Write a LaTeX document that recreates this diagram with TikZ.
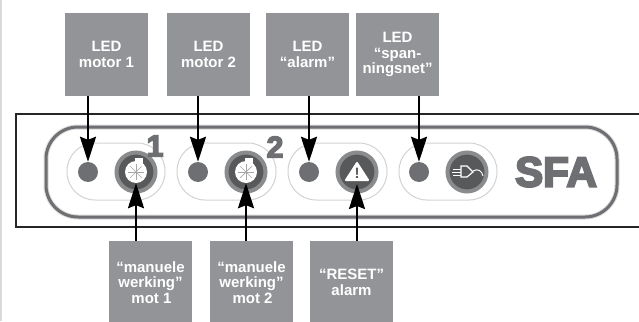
\documentclass[tikz,border=0pt]{standalone}
\usepackage{fontspec}
\setmainfont{Liberation Sans}
\newfontface\logofont[FakeBold=5]{Liberation Sans Bold}
\usetikzlibrary{arrows.meta}
\definecolor{boxgray}{HTML}{929497}
\definecolor{panelgray}{HTML}{6E6F72}
\definecolor{knobgray}{HTML}{58595B}
\tikzset{
  infobox/.style={fill=boxgray,text=white,font=\fontsize{15}{15.5}\selectfont\bfseries,
    minimum width=83pt,minimum height=83pt,inner sep=0pt,align=center},
  pijl/.style={line width=2.2pt,-{Stealth[length=25pt,width=16pt,inset=3pt]}},
  led/.style={circle,fill=panelgray,minimum size=20pt,inner sep=0pt},
  knop/.style={circle,fill=knobgray,draw=knobgray!70,line width=4pt,minimum size=39pt,inner sep=0pt},
  icon/.style={circle,fill=white,minimum size=22pt,inner sep=0pt},
  pill/.style={draw=gray!35,line width=1pt,rounded corners=28pt},
  logo/.style={text=panelgray,inner sep=0pt}
}
\newcommand{\spokes}[1]{%
  \fill[white] (#1.center)+(-1,-14) rectangle +(7,-5);
  \foreach \a in {0,45,...,315}
    \draw[gray!70,line width=0.7pt] (#1.center) -- +(\a:8);
}
\begin{document}
\begin{tikzpicture}[x=1pt,y=-1pt]
  \useasboundingbox (0,0) rectangle (639,321);
  \fill[gray!30] (0,0) rectangle (1.5,321);
  \draw[black!85,line width=2pt] (639,114) -| (16,227) -- (639,227);
  \draw[gray!30,line width=5pt,rounded corners=32pt] (46,127) rectangle (617,217);
  \draw[panelgray,line width=3pt,rounded corners=32pt] (46,127) rectangle (617,217);
  \draw[pill] (67,143) rectangle (165,200);
  \draw[pill] (177,143) rectangle (276,200);
  \draw[pill] (288,143) rectangle (387,200);
  \draw[pill] (399,143) rectangle (497,200);

  \node[led] (leda) at (88,172) {};
  \node[led] (ledb) at (198,172) {};
  \node[led] (ledc) at (309,172) {};
  \node[led] (ledd) at (419,172) {};

  \node[knop] (knopa) at (136,172) {};
  \node[knop] (knopb) at (246,172) {};
  \node[knop] (knopc) at (357,172) {};
  \node[knop] (knopd) at (467,172) {};

  \node[icon] (turba) at (knopa) {};
  \node[icon] (turbb) at (knopb) {};
  \spokes{turba}
  \spokes{turbb}

  \coordinate (resetpunt) at (357,184);
  \fill[white,draw=white,line width=2pt,line join=round] (357,163) -- (368,180) -- (346,180) -- cycle;
  \node[text=knobgray,font=\fontsize{15}{15}\selectfont\bfseries,inner sep=0pt] (uitroep) at (357,173) {!};

  \draw[white,line width=1pt] (453,169) -- (461,169) (452,172) -- (461,172) (453,175) -- (461,175);
  \draw[white,line width=1.2pt,fill=knobgray] (461,166) -- (467,166) -- (473,172) -- (467,177) -- (461,177) -- cycle;
  \draw[white,line width=1pt] (473,171) .. controls (478,168) and (482,171) .. (483,176);

  \node[logo,font=\fontsize{30}{30}\logofont] (een) at (155,146) {1};
  \node[logo,font=\fontsize{30}{30}\logofont] (twee) at (275,147) {2};
  \node[logo,font=\fontsize{42}{42}\logofont] (sfa) at (556,172) {SFA};

  \node[infobox] (boxa) at (106.5,54.5) {LED\\motor 1};
  \node[infobox] (boxb) at (208.5,54.5) {LED\\motor 2};
  \node[infobox] (boxc) at (307.5,54.5) {LED\\“alarm”};
  \node[infobox] (boxd) at (397.5,54.5) {LED\\“span-\\ningsnet”};
  \node[infobox] (boxe) at (150.5,282.5) {“manuele\\werking”\\\hspace{2pt}mot 1};
  \node[infobox] (boxf) at (251.5,282.5) {“manuele\\werking”\\\hspace{2pt}mot 2};
  \node[infobox] (boxg) at (351.5,282.5) {“RESET”\\alarm};

  \draw[pijl] (boxa.south -| leda) -- (leda.north);
  \draw[pijl] (boxb.south -| ledb) -- (ledb.north);
  \draw[pijl] (boxc.south -| ledc) -- (ledc.north);
  \draw[pijl] (boxd.south -| ledd) -- (ledd.north);
  \draw[pijl] (boxe.north -| turba) -- (turba.south);
  \draw[pijl] (boxf.north -| turbb) -- (turbb.south);
  \draw[pijl] (boxg.north -| resetpunt) -- (resetpunt);
\end{tikzpicture}
\end{document}
